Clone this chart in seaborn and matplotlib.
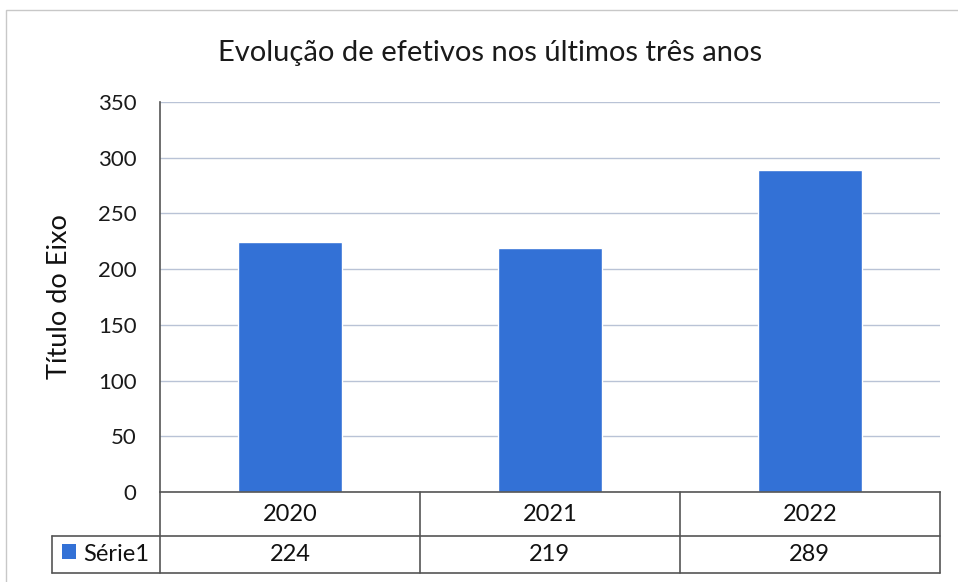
import matplotlib
matplotlib.use("Agg")
import matplotlib.pyplot as plt
import seaborn as sns
from matplotlib.patches import Rectangle

# data
years = ["2020", "2021", "2022"]
values = [224, 219, 289]
series_name = "Série1"
title = "Evolução de efetivos nos últimos três anos"
y_title = "Título do Eixo"
y_ticks = [0, 50, 100, 150, 200, 250, 300, 350]

bar_color = "#3371d6"
grid_color = "#b9c3d6"
line_color = "#555555"

sns.set_style("white")
plt.rcParams["font.family"] = ["Lato", "DejaVu Sans"]

fig = plt.figure(figsize=(9.58, 5.82), dpi=100)
ax = fig.add_axes([0.167, 0.1546, 0.814, 0.6701])

sns.barplot(x=years, y=values, color=bar_color, width=0.4, saturation=1, ax=ax)

n = len(years)
ax.set_xlim(-0.5, n - 0.5)
ax.set_ylim(0, 350)
ax.set_yticks(y_ticks)
ax.tick_params(axis="y", labelsize=16, colors="#1a1a1a", length=0, pad=17)
ax.tick_params(axis="x", length=0)
ax.set_xticklabels([])
ax.set_xlabel("")
ax.set_ylabel(y_title, fontsize=19.5, color="#111111")
ax.yaxis.set_label_coords(-0.113, 0.5)
ax.yaxis.grid(True, color=grid_color, linewidth=1)
ax.set_axisbelow(True)
for side in ["top", "right"]:
    ax.spines[side].set_visible(False)
ax.spines["left"].set_color(line_color)
ax.spines["bottom"].set_color(line_color)
ax.spines["left"].set_linewidth(1.2)
ax.spines["bottom"].set_linewidth(1.2)

fig.text(490 / 958, 0.896, title, ha="center", va="baseline",
         fontsize=21, color="#1a1a1a")

# data table under the plot
row1 = -0.1128
row2 = -0.2077
leg_left = -0.1385
kw = dict(transform=ax.transAxes, clip_on=False, color=line_color, linewidth=1.2)
ax.plot([leg_left, 1], [row1, row1], **kw)
ax.plot([leg_left, 1], [row2, row2], **kw)
ax.plot([leg_left, leg_left], [row1, row2], **kw)
for i in range(n + 1):
    ax.plot([i / n, i / n], [0, row2], **kw)
for i, (yr, v) in enumerate(zip(years, values)):
    cx = (i + 0.5) / n
    ax.text(cx, row1 / 2, yr, transform=ax.transAxes, ha="center", va="center",
            fontsize=17, color="#111111")
    ax.text(cx, (row1 + row2) / 2, str(v), transform=ax.transAxes, ha="center",
            va="center", fontsize=17, color="#111111")

ax.add_patch(Rectangle((-0.1256, -0.1718), 0.018, 0.0385, transform=ax.transAxes,
                       clip_on=False, facecolor=bar_color, edgecolor="none"))
ax.text(-0.0987, (row1 + row2) / 2, series_name, transform=ax.transAxes,
        ha="left", va="center", fontsize=17, color="#111111")

# light border round the chart area
fig.patches.append(Rectangle((6 / 958, -0.01), 1.0, 1 - 10 / 582 + 0.01,
                             transform=fig.transFigure, fill=False,
                             edgecolor="#c8c8c8", linewidth=1))

fig.savefig("out.png", dpi=100, facecolor="white")
